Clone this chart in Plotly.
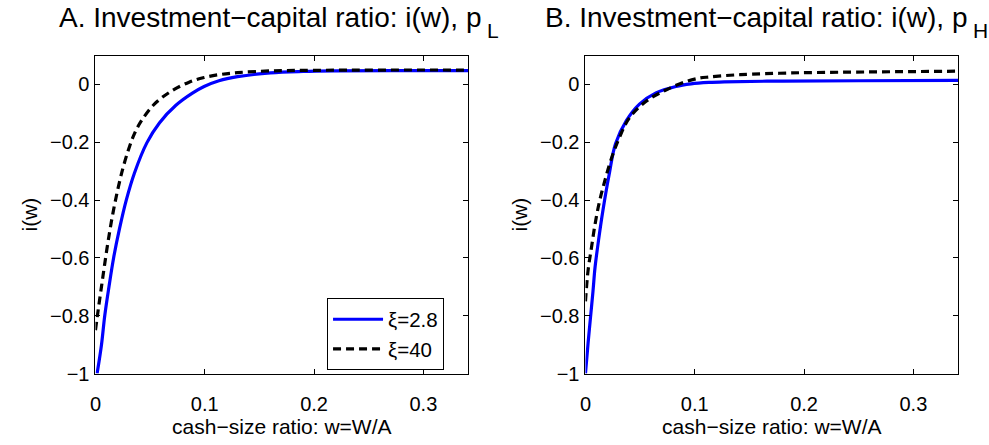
import plotly.graph_objects as go

# Panel A (p_L)
wA_blue = [0.0015, 0.0055, 0.0085, 0.0124, 0.0166, 0.0221, 0.0282, 0.0357, 0.047, 0.0585,
           0.0736, 0.0887, 0.0994, 0.113, 0.13, 0.16, 0.19, 0.22, 0.27, 0.341]
iA_blue = [-1.0, -0.901, -0.80, -0.699, -0.60, -0.497, -0.40, -0.306, -0.202, -0.133,
           -0.072, -0.030, -0.007, 0.013, 0.027, 0.040, 0.045, 0.047, 0.048, 0.048]
wA_dash = [0.0, 0.0025, 0.0055, 0.0085, 0.0121, 0.016, 0.0206, 0.0251, 0.0305, 0.0357,
           0.0418, 0.0539, 0.069, 0.0857, 0.0994, 0.113, 0.13, 0.16, 0.2, 0.26, 0.341]
iA_dash = [-0.85, -0.78, -0.70, -0.62, -0.53, -0.445, -0.36, -0.29, -0.222, -0.170,
           -0.127, -0.068, -0.024, 0.008, 0.024, 0.034, 0.041, 0.047, 0.049, 0.050, 0.050]

# Panel B (p_H)
wB_blue = [0.0, 0.0024, 0.0045, 0.0069, 0.0087, 0.0121, 0.016, 0.0215, 0.0275, 0.0373,
           0.0494, 0.0645, 0.0827, 0.0966, 0.113, 0.127, 0.18, 0.25, 0.341]
iB_blue = [-1.0, -0.895, -0.81, -0.715, -0.635, -0.535, -0.435, -0.315, -0.205, -0.126,
           -0.068, -0.029, -0.007, 0.002, 0.007, 0.009, 0.012, 0.013, 0.0145]
wB_dash = [0.0, 0.0024, 0.0055, 0.0087, 0.0127, 0.0173, 0.0233, 0.0312, 0.0403, 0.0555,
           0.0736, 0.0918, 0.104, 0.113, 0.125, 0.142, 0.188, 0.248, 0.341]
iB_dash = [-0.75, -0.643, -0.564, -0.485, -0.407, -0.339, -0.261, -0.182, -0.115, -0.058,
           -0.019, 0.010, 0.022, 0.026, 0.030, 0.034, 0.040, 0.043, 0.046]

labels = ["ξ=2.8", "ξ=40"]
titles = ["A. Investment−capital ratio: i(w), p", "B. Investment−capital ratio: i(w), p"]
subs = ["L", "H"]
xticks = [0, 0.1, 0.2, 0.3]
xtext = ["0", "0.1", "0.2", "0.3"]
yticks = [-1, -0.8, -0.6, -0.4, -0.2, 0]
ytext = ["−1", "−0.8", "−0.6", "−0.4", "−0.2", "0"]

FONT = "Liberation Sans, Arial, Helvetica, sans-serif"
fig = go.Figure()

blue = dict(color="#0000ff", width=3.2, shape="spline")
dash = dict(color="black", width=3.2, dash="8px,5px", shape="spline")
fig.add_trace(go.Scatter(x=wA_blue, y=iA_blue, mode="lines", name=labels[0], line=blue,
                         xaxis="x", yaxis="y"))
fig.add_trace(go.Scatter(x=wA_dash, y=iA_dash, mode="lines", name=labels[1], line=dash,
                         xaxis="x", yaxis="y"))
fig.add_trace(go.Scatter(x=wB_blue, y=iB_blue, mode="lines", showlegend=False, line=blue,
                         xaxis="x2", yaxis="y2"))
fig.add_trace(go.Scatter(x=wB_dash, y=iB_dash, mode="lines", showlegend=False, line=dash,
                         xaxis="x2", yaxis="y2"))

W, H = 989, 445
doms_x = [[90 / W, 465 / W], [583 / W, 958 / W]]
dom_y = [1 - 383 / H, 1 - 57 / H]

common_x = dict(range=[0, 0.341], tickvals=xticks, ticktext=xtext,
                ticks="inside", ticklen=5, tickcolor="black", showline=True, linecolor="black",
                linewidth=1, mirror="ticks", showgrid=False, zeroline=False,
                ticklabelstandoff=12,
                tickfont=dict(family=FONT, size=20, color="black"),
                title=dict(text="cash−size ratio: w=W/A", font=dict(family=FONT, size=21, color="black"),
                           standoff=3))
common_y = dict(range=[-1, 0.1], tickvals=yticks, ticktext=ytext,
                ticks="inside", ticklen=5, tickcolor="black", showline=True, linecolor="black",
                linewidth=1, mirror="ticks", showgrid=False, zeroline=False,
                ticklabelstandoff=1,
                tickfont=dict(family=FONT, size=20, color="black"),
                title=dict(text="i(w)", font=dict(family=FONT, size=21, color="black"), standoff=6))

title_right = [481, 970]
annotations = []
for k in range(2):
    annotations.append(dict(text=titles[k], x=title_right[k] / W, y=1 - 17.5 / H,
                            xref="paper", yref="paper", showarrow=False,
                            xanchor="right", yanchor="middle",
                            font=dict(family=FONT, size=28, color="black")))
    annotations.append(dict(text=subs[k], x=(title_right[k] + 1) / W, y=1 - 31 / H,
                            xref="paper", yref="paper", showarrow=False,
                            xanchor="left", yanchor="middle",
                            font=dict(family=FONT, size=21, color="black")))

fig.update_layout(
    width=W, height=H,
    margin=dict(l=0, r=0, t=0, b=0),
    paper_bgcolor="white", plot_bgcolor="white",
    font=dict(family=FONT, color="black"),
    xaxis=dict(domain=doms_x[0], anchor="y", **common_x),
    yaxis=dict(domain=dom_y, anchor="x", **common_y),
    xaxis2=dict(domain=doms_x[1], anchor="y2", **common_x),
    yaxis2=dict(domain=dom_y, anchor="x2", **common_y),
    legend=dict(x=323 / W, y=1 - 306 / H, xanchor="left", yanchor="top",
                bordercolor="black", borderwidth=1, bgcolor="white",
                itemwidth=50,
                font=dict(family=FONT, size=20.5, color="black"), tracegroupgap=0),
    showlegend=True,
    annotations=annotations,
)

fig.write_html("out.html")
